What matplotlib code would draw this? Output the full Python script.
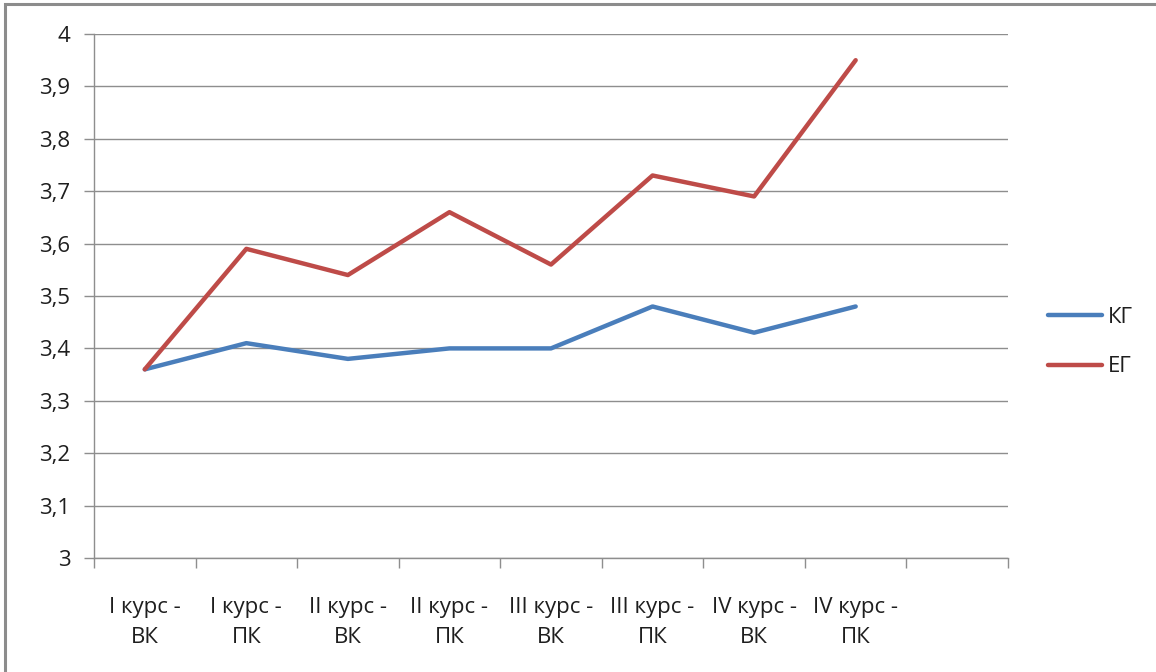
import numpy as np
import matplotlib.pyplot as plt
from matplotlib.patches import Rectangle

# Data
categories = ["I курс -\nВК", "I курс -\nПК", "II курс -\nВК", "II курс -\nПК",
              "III курс -\nВК", "III курс -\nПК", "IV курс -\nВК", "IV курс -\nПК", ""]
kg_values = [3.36, 3.41, 3.38, 3.40, 3.40, 3.48, 3.43, 3.48]
eg_values = [3.36, 3.59, 3.54, 3.66, 3.56, 3.73, 3.69, 3.95]
y_ticks = [3.0, 3.1, 3.2, 3.3, 3.4, 3.5, 3.6, 3.7, 3.8, 3.9, 4.0]

plt.rcParams['font.family'] = ['Open Sans', 'DejaVu Sans']

W, H = 1156, 672
fig = plt.figure(figsize=(W / 100, H / 100), dpi=100)
ax = fig.add_axes([94 / W, 1 - 558 / H, (1008 - 94) / W, (558 - 34) / H])

grid_col = '#8e8e8e'
text_col = '#1e1e1e'
fs = 16
x = np.arange(len(kg_values))
ax.plot(x, kg_values, color='#4A7EBB', lw=3.2, label='КГ', solid_capstyle='round')
ax.plot(x, eg_values, color='#BE4B48', lw=3.2, label='ЕГ', solid_capstyle='round')

ax.set_xlim(-0.5, len(categories) - 0.5)
ax.set_ylim(3, 4)
ax.set_yticks(y_ticks)
ax.set_yticklabels([f"{v:g}".replace('.', ',') for v in y_ticks])
ax.yaxis.grid(True, color=grid_col, lw=1)
ax.set_axisbelow(True)

ax.set_xticks(np.arange(len(categories)))
ax.set_xticklabels(categories, linespacing=1.6)
ax.set_xticks(np.arange(len(categories) + 1) - 0.5, minor=True)
ax.tick_params(axis='x', which='major', length=0, pad=28, labelsize=fs, labelcolor=text_col)
ax.tick_params(axis='x', which='minor', length=7, width=1, color=grid_col)
ax.tick_params(axis='y', length=7, width=1, color=grid_col, pad=10, labelsize=fs,
               labelcolor=text_col)

for s in ['top', 'right']:
    ax.spines[s].set_visible(False)
for s in ['left', 'bottom']:
    ax.spines[s].set_color(grid_col)
    ax.spines[s].set_linewidth(1)

leg = ax.legend(loc='center left', bbox_to_anchor=(1028 / W, 1 - 342 / H),
                bbox_transform=fig.transFigure, frameon=False, fontsize=fs,
                handlelength=2.45, handletextpad=0.25, labelspacing=1.3)
for t in leg.get_texts():
    t.set_color(text_col)

# outer chart border (top and left visible)
fig.patches.append(Rectangle((5 / W, -0.1), 1.2, 1 - 4 / H + 0.1, transform=fig.transFigure,
                             fill=False, edgecolor='#8c8c8c', lw=2.2))

fig.savefig('out.png', dpi=100)
